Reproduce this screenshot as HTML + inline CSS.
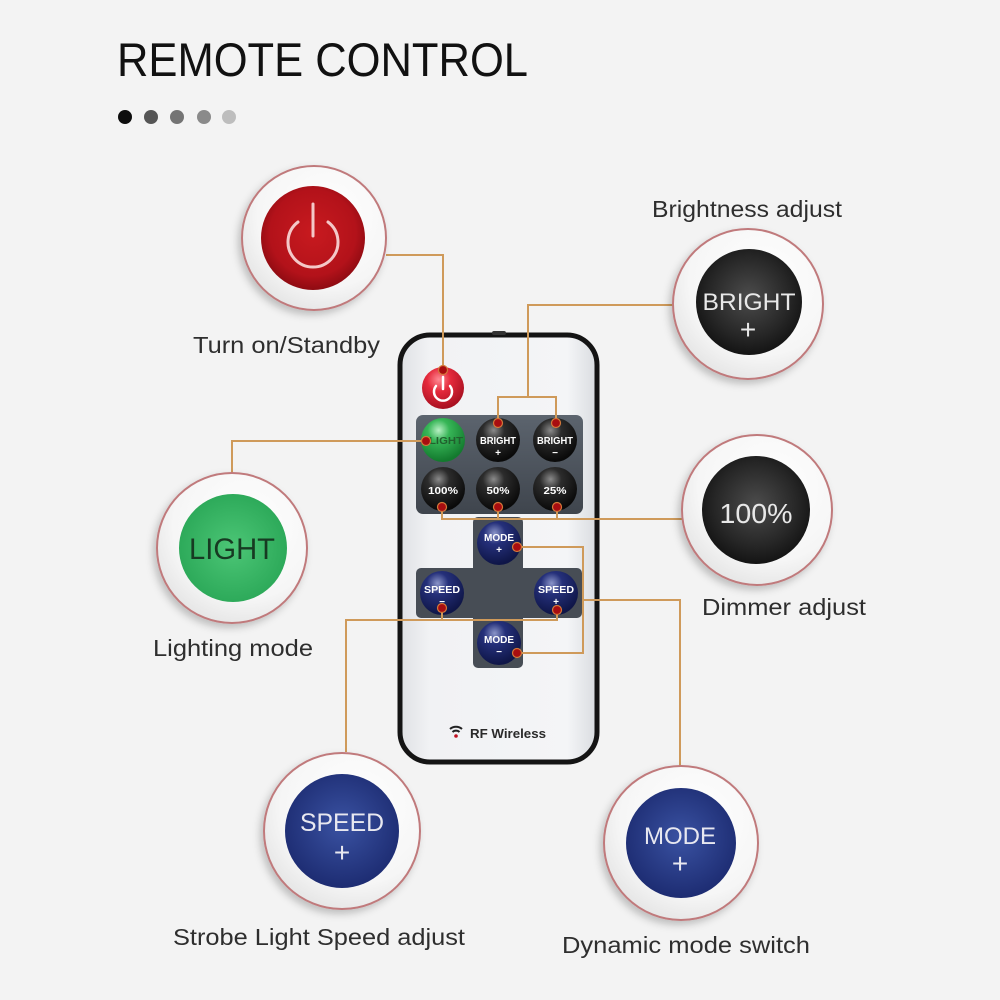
<!DOCTYPE html>
<html>
<head>
<meta charset="utf-8">
<style>
  html,body{margin:0;padding:0;background:#f3f3f3;}
  body{width:1000px;height:1000px;overflow:hidden;}
  svg{display:block;}
  .lbl{font-family:"Liberation Sans",sans-serif;font-size:23px;fill:#2e2e2e;}
  .btn{font-family:"Liberation Sans",sans-serif;font-weight:bold;fill:#ffffff;text-anchor:middle;}
  .big{font-family:"Liberation Sans",sans-serif;text-anchor:middle;}
</style>
</head>
<body>
<svg width="1000" height="1000" viewBox="0 0 1000 1000" xmlns="http://www.w3.org/2000/svg">
  <defs>
    <filter id="sh" x="-30%" y="-30%" width="160%" height="160%">
      <feDropShadow dx="-3" dy="4" stdDeviation="4" flood-color="#000" flood-opacity="0.22"/>
    </filter>
    <radialGradient id="ring" cx="60%" cy="35%" r="70%">
      <stop offset="0" stop-color="#ffffff"/>
      <stop offset="0.7" stop-color="#f6f6f6"/>
      <stop offset="1" stop-color="#e4e4e4"/>
    </radialGradient>
    <radialGradient id="bigRed" cx="50%" cy="45%" r="55%">
      <stop offset="0" stop-color="#c81a1f"/>
      <stop offset="0.75" stop-color="#b3121a"/>
      <stop offset="1" stop-color="#8e0b12"/>
    </radialGradient>
    <radialGradient id="bigDark" cx="50%" cy="45%" r="55%">
      <stop offset="0" stop-color="#4c4c4c"/>
      <stop offset="0.7" stop-color="#262626"/>
      <stop offset="1" stop-color="#141414"/>
    </radialGradient>
    <radialGradient id="bigGreen" cx="50%" cy="50%" r="55%">
      <stop offset="0" stop-color="#4cc676"/>
      <stop offset="1" stop-color="#2aa757"/>
    </radialGradient>
    <radialGradient id="bigBlue" cx="50%" cy="45%" r="55%">
      <stop offset="0" stop-color="#3a52a2"/>
      <stop offset="1" stop-color="#1d2c72"/>
    </radialGradient>
    <radialGradient id="sDark" cx="40%" cy="28%" r="70%">
      <stop offset="0" stop-color="#8a8a8a"/>
      <stop offset="0.35" stop-color="#2c2c2c"/>
      <stop offset="1" stop-color="#0a0a0a"/>
    </radialGradient>
    <radialGradient id="sBlue" cx="40%" cy="28%" r="70%">
      <stop offset="0" stop-color="#8a94c8"/>
      <stop offset="0.35" stop-color="#25307a"/>
      <stop offset="1" stop-color="#0f1648"/>
    </radialGradient>
    <radialGradient id="sGreen" cx="40%" cy="28%" r="70%">
      <stop offset="0" stop-color="#b8f0c4"/>
      <stop offset="0.35" stop-color="#37b657"/>
      <stop offset="1" stop-color="#137a2e"/>
    </radialGradient>
    <radialGradient id="sRed" cx="40%" cy="30%" r="70%">
      <stop offset="0" stop-color="#ff8a94"/>
      <stop offset="0.4" stop-color="#e52a3c"/>
      <stop offset="1" stop-color="#a81020"/>
    </radialGradient>
    <linearGradient id="body" x1="0" y1="0" x2="1" y2="0">
      <stop offset="0" stop-color="#dfe1e5"/>
      <stop offset="0.15" stop-color="#f1f2f4"/>
      <stop offset="0.85" stop-color="#f4f5f7"/>
      <stop offset="1" stop-color="#d9dce0"/>
    </linearGradient>
    <linearGradient id="panel" x1="0" y1="0" x2="0" y2="1">
      <stop offset="0" stop-color="#5c646e"/>
      <stop offset="1" stop-color="#3f454d"/>
    </linearGradient>
  </defs>

  <!-- Title -->
  <text x="117" y="76" font-family="Liberation Sans, sans-serif" font-size="47" fill="#111" textLength="411" lengthAdjust="spacingAndGlyphs">REMOTE CONTROL</text>
  <circle cx="125" cy="117" r="7" fill="#0d0d0d"/>
  <circle cx="151" cy="117" r="7" fill="#555"/>
  <circle cx="177" cy="117" r="7" fill="#747474"/>
  <circle cx="204" cy="117" r="7" fill="#8a8a8a"/>
  <circle cx="229" cy="117" r="7" fill="#bdbdbd"/>

  <!-- Remote body -->
  <rect x="400" y="335" width="197" height="427" rx="30" ry="30" fill="url(#body)" stroke="#141414" stroke-width="5"/>
  <rect x="492" y="331" width="14" height="4" rx="2" fill="#333"/>

  <!-- Panels -->
  <rect x="416" y="415" width="167" height="99" rx="7" fill="url(#panel)"/>
  <rect x="473" y="517" width="50" height="151" rx="5" fill="#474d55"/>
  <rect x="416" y="568" width="166" height="50" rx="5" fill="#474d55"/>

  <!-- Power button on remote -->
  <circle cx="443" cy="388" r="21" fill="url(#sRed)"/>
  <path d="M 436 386 A 9 9 0 1 0 450 386" fill="none" stroke="#fff" stroke-width="2.5" stroke-linecap="round"/>
  <line x1="443" y1="377" x2="443" y2="389" stroke="#fff" stroke-width="2.5" stroke-linecap="round"/>

  <!-- Row 1 -->
  <circle cx="443" cy="440" r="22" fill="url(#sGreen)"/>
  <text class="btn" x="446" y="444" font-size="10" style="fill:#21602e" textLength="34" lengthAdjust="spacingAndGlyphs">LIGHT</text>
  <circle cx="498" cy="440" r="22" fill="url(#sDark)"/>
  <text class="btn" x="498" y="444" font-size="10" textLength="36" lengthAdjust="spacingAndGlyphs">BRIGHT</text>
  <text class="btn" x="498" y="456" font-size="10">+</text>
  <circle cx="555" cy="440" r="22" fill="url(#sDark)"/>
  <text class="btn" x="555" y="444" font-size="10" textLength="36" lengthAdjust="spacingAndGlyphs">BRIGHT</text>
  <text class="btn" x="555" y="456" font-size="10">−</text>

  <!-- Row 2 -->
  <circle cx="443" cy="489" r="22" fill="url(#sDark)"/>
  <text class="btn" x="443" y="494" font-size="10.5" textLength="30" lengthAdjust="spacingAndGlyphs">100%</text>
  <circle cx="498" cy="489" r="22" fill="url(#sDark)"/>
  <text class="btn" x="498" y="494" font-size="10.5" textLength="23" lengthAdjust="spacingAndGlyphs">50%</text>
  <circle cx="555" cy="489" r="22" fill="url(#sDark)"/>
  <text class="btn" x="555" y="494" font-size="10.5" textLength="23" lengthAdjust="spacingAndGlyphs">25%</text>

  <!-- Cross buttons -->
  <circle cx="499" cy="543" r="22" fill="url(#sBlue)"/>
  <text class="btn" x="499" y="541" font-size="10" textLength="30" lengthAdjust="spacingAndGlyphs">MODE</text>
  <text class="btn" x="499" y="553" font-size="10">+</text>
  <circle cx="442" cy="593" r="22" fill="url(#sBlue)"/>
  <text class="btn" x="442" y="593" font-size="10" textLength="36" lengthAdjust="spacingAndGlyphs">SPEED</text>
  <text class="btn" x="442" y="605" font-size="10">−</text>
  <circle cx="556" cy="593" r="22" fill="url(#sBlue)"/>
  <text class="btn" x="556" y="593" font-size="10" textLength="36" lengthAdjust="spacingAndGlyphs">SPEED</text>
  <text class="btn" x="556" y="605" font-size="10">+</text>
  <circle cx="499" cy="643" r="22" fill="url(#sBlue)"/>
  <text class="btn" x="499" y="643" font-size="10" textLength="30" lengthAdjust="spacingAndGlyphs">MODE</text>
  <text class="btn" x="499" y="655" font-size="10">−</text>

  <!-- RF Wireless -->
  <g transform="translate(456,732)">
    <path d="M -6 -3 A 9 9 0 0 1 6 -3" fill="none" stroke="#222" stroke-width="2"/>
    <path d="M -3.5 0 A 5 5 0 0 1 3.5 0" fill="none" stroke="#222" stroke-width="2"/>
    <circle cx="0" cy="4" r="1.8" fill="#c01020"/>
  </g>
  <text x="470" y="738" font-family="Liberation Sans, sans-serif" font-weight="bold" font-size="13" fill="#2a2a2a" textLength="76" lengthAdjust="spacingAndGlyphs">RF Wireless</text>

  <!-- Connectors -->
  <g fill="none" stroke="#cf9a5a" stroke-width="2" stroke-linejoin="miter">
    <polyline points="386,255 443,255 443,370"/>
    <polyline points="673,305 528,305 528,397"/>
    <polyline points="498,423 498,397 556,397 556,423"/>
    <polyline points="232,473 232,441 426,441"/>
    <polyline points="682,519 442,519 442,507"/>
    <polyline points="498,507 498,519"/>
    <polyline points="557,507 557,519"/>
    <polyline points="346,752 346,620 557,620 557,610"/>
    <polyline points="442,608 442,620"/>
    <polyline points="517,547 583,547 583,653 517,653"/>
    <polyline points="583,600 680,600 680,767"/>
  </g>

  <!-- Red dots -->
  <g fill="#a80d10" stroke="#d4783a" stroke-width="1.2">
    <circle cx="443" cy="370" r="4.5"/>
    <circle cx="426" cy="441" r="4.5"/>
    <circle cx="498" cy="423" r="4.5"/>
    <circle cx="556" cy="423" r="4.5"/>
    <circle cx="442" cy="507" r="4.5"/>
    <circle cx="498" cy="507" r="4.5"/>
    <circle cx="557" cy="507" r="4.5"/>
    <circle cx="517" cy="547" r="4.5"/>
    <circle cx="442" cy="608" r="4.5"/>
    <circle cx="557" cy="610" r="4.5"/>
    <circle cx="517" cy="653" r="4.5"/>
  </g>

  <!-- Power big circle -->
  <circle cx="314" cy="238" r="72" fill="url(#ring)" stroke="#c07a7c" stroke-width="2" filter="url(#sh)"/>
  <circle cx="313" cy="238" r="52" fill="url(#bigRed)"/>
  <path d="M 298 222 A 25 25 0 1 0 328 222" fill="none" stroke="#f4c8c8" stroke-width="3" stroke-linecap="round"/>
  <line x1="313" y1="204" x2="313" y2="236" stroke="#f4c8c8" stroke-width="3" stroke-linecap="round"/>
  <text class="lbl" x="193" y="353" textLength="187" lengthAdjust="spacingAndGlyphs">Turn on/Standby</text>

  <!-- Bright big circle -->
  <text class="lbl" x="652" y="217" textLength="190" lengthAdjust="spacingAndGlyphs">Brightness adjust</text>
  <circle cx="748" cy="304" r="75" fill="url(#ring)" stroke="#c07a7c" stroke-width="2" filter="url(#sh)"/>
  <circle cx="749" cy="302" r="53" fill="url(#bigDark)"/>
  <text class="big" x="749" y="310" font-size="24" fill="#e8e8e8" textLength="93" lengthAdjust="spacingAndGlyphs">BRIGHT</text>
  <text class="big" x="748" y="339" font-size="28" fill="#e8e8e8">+</text>

  <!-- Dimmer big circle -->
  <circle cx="757" cy="510" r="75" fill="url(#ring)" stroke="#c07a7c" stroke-width="2" filter="url(#sh)"/>
  <circle cx="756" cy="510" r="54" fill="url(#bigDark)"/>
  <text class="big" x="756" y="523" font-size="28" fill="#e8e8e8" textLength="73" lengthAdjust="spacingAndGlyphs">100%</text>
  <text class="lbl" x="702" y="615" textLength="164" lengthAdjust="spacingAndGlyphs">Dimmer adjust</text>

  <!-- Light big circle -->
  <circle cx="232" cy="548" r="75" fill="url(#ring)" stroke="#c07a7c" stroke-width="2" filter="url(#sh)"/>
  <circle cx="233" cy="548" r="54" fill="url(#bigGreen)"/>
  <text class="big" x="232" y="559" font-size="30" fill="#173a22" textLength="86" lengthAdjust="spacingAndGlyphs">LIGHT</text>
  <text class="lbl" x="153" y="656" textLength="160" lengthAdjust="spacingAndGlyphs">Lighting mode</text>

  <!-- Speed big circle -->
  <circle cx="342" cy="831" r="78" fill="url(#ring)" stroke="#c07a7c" stroke-width="2" filter="url(#sh)"/>
  <circle cx="342" cy="831" r="57" fill="url(#bigBlue)"/>
  <text class="big" x="342" y="831" font-size="25" fill="#e8e8f0" textLength="84" lengthAdjust="spacingAndGlyphs">SPEED</text>
  <text class="big" x="342" y="862" font-size="28" fill="#e8e8f0">+</text>
  <text class="lbl" x="173" y="945" textLength="292" lengthAdjust="spacingAndGlyphs">Strobe Light Speed adjust</text>

  <!-- Mode big circle -->
  <circle cx="681" cy="843" r="77" fill="url(#ring)" stroke="#c07a7c" stroke-width="2" filter="url(#sh)"/>
  <circle cx="681" cy="843" r="55" fill="url(#bigBlue)"/>
  <text class="big" x="680" y="844" font-size="24" fill="#e8e8f0" textLength="72" lengthAdjust="spacingAndGlyphs">MODE</text>
  <text class="big" x="680" y="873" font-size="28" fill="#e8e8f0">+</text>
  <text class="lbl" x="562" y="953" textLength="248" lengthAdjust="spacingAndGlyphs">Dynamic mode switch</text>
</svg>
</body>
</html>
